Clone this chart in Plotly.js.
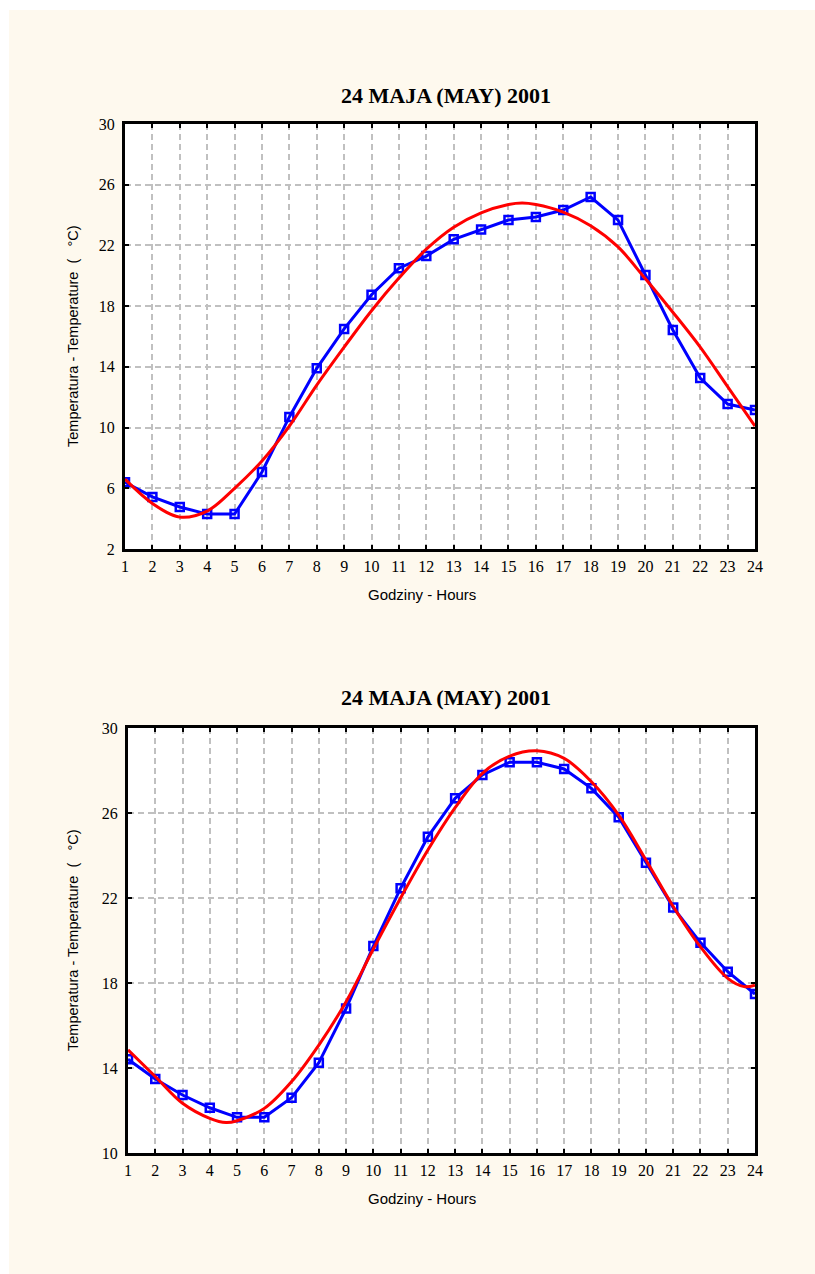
<!DOCTYPE html>
<html>
<head>
<meta charset="utf-8">
<script src="https://cdn.plot.ly/plotly-3.0.1.min.js"></script>
<style>
  html, body { margin: 0; padding: 0; background: #ffffff; }
  #chart { position: absolute; left: 9px; top: 10px; width: 806px; height: 1264px; }
</style>
</head>
<body>
<div id="chart"></div>
<script>
// ---------- DATA ----------
const hours = [1,2,3,4,5,6,7,8,9,10,11,12,13,14,15,16,17,18,19,20,21,22,23,24];

// Top chart: measured (blue) and fitted (red)
const topMeasured = [6.4,5.43,4.77,4.3,4.3,7.07,10.7,13.9,16.5,18.75,20.5,21.3,22.4,23.05,23.67,23.87,24.33,25.19,23.67,20.05,16.43,13.26,11.55,11.16];
const topFitHours = [1,2,3,4,5,6,7,8,9,10,11,12,13,14,15,15.5,16,17,18,19,20,21,22,23,24];
const topFit      = [6.6,5.0,4.1,4.5,6.0,7.8,10.1,12.8,15.3,17.7,19.85,21.75,23.2,24.15,24.7,24.8,24.7,24.2,23.3,21.9,19.8,17.6,15.3,12.7,10.1];

// Bottom chart: measured (blue) and fitted (red)
const botMeasured = [14.41,13.48,12.73,12.13,11.68,11.68,12.6,14.25,16.8,19.74,22.46,24.88,26.69,27.79,28.39,28.39,28.07,27.16,25.8,23.66,21.55,19.9,18.53,17.48];
const botFitHours = [1,2,3,4,4.6,5,6,7,8,9,10,11,12,13,14,15,16,17,18,19,20,21,22,23,23.6,24];
const botFit      = [14.85,13.6,12.34,11.63,11.43,11.52,12.1,13.36,15.08,17.12,19.6,22.0,24.26,26.25,27.87,28.68,28.93,28.57,27.47,25.9,23.79,21.6,19.7,18.22,17.83,17.9];

const chartTitle = '24 MAJA (MAY) 2001';
const xTitle = 'Godziny - Hours';
const yTitle = 'Temperatura - Temperature  (   °C)';

// ---------- CHART ----------
const W = 806, H = 1264;
const blue = '#0000ff', red = '#ff0000';

function measured(x, y, xa, ya) {
  return {x: x, y: y, xaxis: xa, yaxis: ya, type: 'scatter', mode: 'lines+markers',
    line: {color: blue, width: 3},
    marker: {symbol: 'square-open', size: 8, color: blue, line: {color: blue, width: 2.5}},
    showlegend: false, hoverinfo: 'x+y'};
}
function fitted(x, y, xa, ya) {
  return {x: x, y: y, xaxis: xa, yaxis: ya, type: 'scatter', mode: 'lines',
    line: {color: red, width: 3, shape: 'spline', smoothing: 1.0},
    showlegend: false, hoverinfo: 'x+y'};
}

const data = [
  measured(hours, topMeasured, 'x', 'y'),
  fitted(topFitHours, topFit, 'x', 'y'),
  measured(hours, botMeasured, 'x2', 'y2'),
  fitted(botFitHours, botFit, 'x2', 'y2')
];

const tickFont = {family: '"Liberation Serif", "Times New Roman", serif', size: 16, color: '#000'};
const gridCommon = {
  showgrid: true, gridcolor: '#c0c0c0', gridwidth: 2, griddash: '6px,4px',
  showline: true, linecolor: '#000', linewidth: 3, mirror: 'ticks',
  ticks: 'inside', ticklen: 4, tickwidth: 2, tickcolor: '#000',
  zeroline: false, tickfont: tickFont, fixedrange: true
};

function xaxis(domain, anchor) {
  return Object.assign({}, gridCommon, {domain: domain, anchor: anchor, range: [1, 24],
    tickmode: 'linear', tick0: 1, dtick: 1, ticklabelstandoff: 1});
}
function yaxis(domain, anchor, r, t0) {
  return Object.assign({}, gridCommon, {domain: domain, anchor: anchor, range: r,
    tickmode: 'linear', tick0: t0, dtick: 4, ticklabelstandoff: 4});
}

const topXdom = [116/W, 746/W];
const botXdom = [119/W, 746/W];
const topYdom = [1 - 539/H, 1 - 114/H];
const botYdom = [1 - 1143/H, 1 - 718/H];

const titleFont = {family: '"Liberation Serif", "Times New Roman", serif', size: 22, color: '#000'};
const xFont = {family: '"Liberation Sans", Arial, sans-serif', size: 15, color: '#000'};
const yFont = {family: '"Liberation Sans", Arial, sans-serif', size: 14.5, color: '#000'};

function ann(text, xpx, ypx, font, angle) {
  return {text: text, xref: 'paper', yref: 'paper', x: xpx / W, y: 1 - ypx / H,
    xanchor: 'center', yanchor: 'middle', showarrow: false, font: font, textangle: angle || 0};
}

const layout = {
  width: W, height: H,
  margin: {l: 0, r: 0, t: 0, b: 0},
  paper_bgcolor: '#fef9ee',
  plot_bgcolor: '#ffffff',
  showlegend: false,
  xaxis: xaxis(topXdom, 'y'),
  yaxis: yaxis(topYdom, 'x', [2, 30], 2),
  xaxis2: xaxis(botXdom, 'y2'),
  yaxis2: yaxis(botYdom, 'x2', [10, 30], 10),
  annotations: [
    ann('<b>' + chartTitle + '</b>', 437, 85, titleFont),
    ann('<b>' + chartTitle + '</b>', 437, 687, titleFont),
    ann(xTitle, 413, 584, xFont),
    ann(xTitle, 413, 1188, xFont),
    ann(yTitle, 64, 326, yFont, -90),
    ann(yTitle, 64, 930, yFont, -90)
  ]
};

Plotly.newPlot('chart', data, layout, {displayModeBar: false, staticPlot: true});
</script>
</body>
</html>
